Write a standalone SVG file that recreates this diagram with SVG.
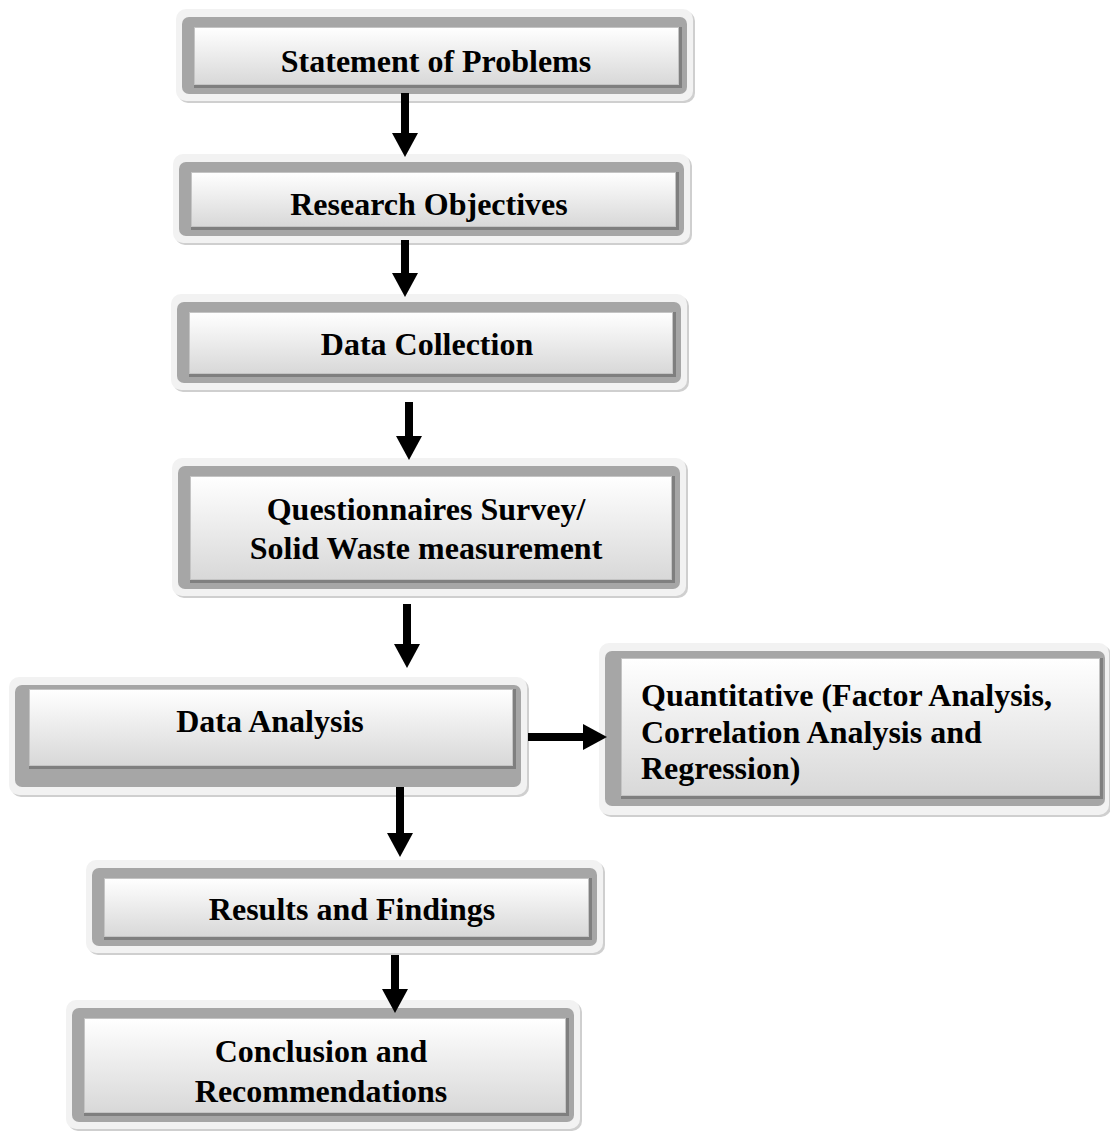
<svg xmlns="http://www.w3.org/2000/svg" width="1110" height="1133" viewBox="0 0 1110 1133">
<defs>
<linearGradient id="g" x1="0" y1="0" x2="0" y2="1">
<stop offset="0" stop-color="#ffffff"/>
<stop offset="1" stop-color="#d8d8d8"/>
</linearGradient>
<marker id="ah" markerUnits="userSpaceOnUse" markerWidth="24" markerHeight="26" viewBox="0 0 24 26" refX="0" refY="13" orient="auto">
<path d="M0,0 L24,13 L0,26 Z" fill="#000"/>
</marker>
</defs>
<style>
.sh{fill:#cfcfcf}
.out{fill:#f2f2f2}
.fr{fill:#a6a6a6}
.ish{fill:#7f7f7f}
.in{fill:url(#g);stroke:#c4c4c4;stroke-width:1}
.t{font-family:"Liberation Serif","Times New Roman",serif;font-weight:bold;font-size:32px;fill:#000}
.c{text-anchor:middle}
.ar{stroke:#000;stroke-width:8;fill:none;marker-end:url(#ah)}
</style>
<rect width="1110" height="1133" fill="#fff"/>

<g id="n1">
<rect class="sh" x="178" y="11" width="517" height="92" rx="10"/>
<rect class="out" x="176" y="9" width="517" height="92" rx="10"/>
<rect class="fr" x="182" y="17" width="505" height="77" rx="7"/>
<rect class="ish" x="194" y="27" width="488" height="61"/>
<rect class="in" x="194.5" y="27.5" width="484" height="57"/>
<text class="t c" x="436" y="72">Statement of Problems</text>
</g>

<g id="n2">
<rect class="sh" x="175" y="156" width="517" height="89" rx="10"/>
<rect class="out" x="173" y="154" width="517" height="89" rx="10"/>
<rect class="fr" x="179" y="162" width="505" height="74" rx="7"/>
<rect class="ish" x="191" y="172" width="488" height="58"/>
<rect class="in" x="191.5" y="172.5" width="484" height="54"/>
<text class="t c" x="429" y="215">Research Objectives</text>
</g>

<g id="n3">
<rect class="sh" x="173" y="296" width="516" height="96" rx="10"/>
<rect class="out" x="171" y="294" width="516" height="96" rx="10"/>
<rect class="fr" x="177" y="302" width="504" height="81" rx="7"/>
<rect class="ish" x="189" y="312" width="487" height="65"/>
<rect class="in" x="189.5" y="312.5" width="483" height="61"/>
<text class="t c" x="427" y="355">Data Collection</text>
</g>

<g id="n4">
<rect class="sh" x="174" y="460" width="514" height="138" rx="10"/>
<rect class="out" x="172" y="458" width="514" height="138" rx="10"/>
<rect class="fr" x="178" y="466" width="502" height="123" rx="7"/>
<rect class="ish" x="190" y="476" width="485" height="107"/>
<rect class="in" x="190.5" y="476.5" width="481" height="103"/>
<text class="t c" x="426" y="520">Questionnaires Survey/</text>
<text class="t c" x="426" y="559">Solid Waste measurement</text>
</g>

<g id="n5">
<rect class="sh" x="11" y="679" width="518" height="118" rx="10"/>
<rect class="out" x="9" y="677" width="518" height="118" rx="10"/>
<rect class="fr" x="15" y="685" width="506" height="102" rx="7"/>
<rect class="ish" x="29" y="689" width="487" height="80"/>
<rect class="in" x="29.5" y="689.5" width="483" height="76"/>
<text class="t c" x="270" y="732">Data Analysis</text>
</g>

<g id="n6">
<rect class="sh" x="601" y="645" width="510" height="172" rx="10"/>
<rect class="out" x="599" y="643" width="510" height="172" rx="10"/>
<rect class="fr" x="605" y="651" width="500" height="155" rx="7"/>
<rect class="ish" x="621" y="658" width="482" height="141"/>
<rect class="in" x="621.5" y="658.5" width="478" height="137"/>
<text class="t" x="641" y="706">Quantitative (Factor Analysis,</text>
<text class="t" x="641" y="743">Correlation Analysis and</text>
<text class="t" x="641" y="779">Regression)</text>
</g>

<g id="n7">
<rect class="sh" x="88" y="862" width="517" height="93" rx="10"/>
<rect class="out" x="86" y="860" width="517" height="93" rx="10"/>
<rect class="fr" x="92" y="868" width="505" height="78" rx="7"/>
<rect class="ish" x="104" y="878" width="488" height="62"/>
<rect class="in" x="104.5" y="878.5" width="484" height="58"/>
<text class="t c" x="352" y="920">Results and Findings</text>
</g>

<g id="n8">
<rect class="sh" x="68" y="1002" width="514" height="129" rx="10"/>
<rect class="out" x="66" y="1000" width="514" height="129" rx="10"/>
<rect class="fr" x="72" y="1008" width="502" height="114" rx="7"/>
<rect class="ish" x="84" y="1018" width="485" height="98"/>
<rect class="in" x="84.5" y="1018.5" width="481" height="94"/>
<text class="t c" x="321" y="1062">Conclusion and</text>
<text class="t c" x="321" y="1102">Recommendations</text>
</g>

<g id="connectors">
<path class="ar" d="M405,93 V133"/>
<path class="ar" d="M405,240 V273"/>
<path class="ar" d="M409,402 V436"/>
<path class="ar" d="M407,604 V644"/>
<path class="ar" d="M528,737 H583"/>
<path class="ar" d="M400,787 V833"/>
<path class="ar" d="M395,955 V989"/>
</g>
</svg>
